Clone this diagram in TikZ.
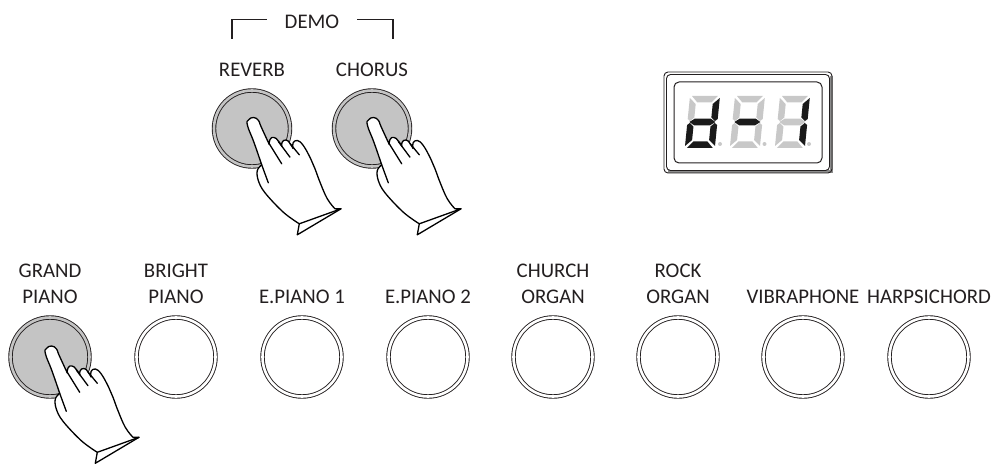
\documentclass[tikz,border=0pt]{standalone}
\usepackage{fontspec}
\setmainfont{Carlito}
\usetikzlibrary{positioning}
\definecolor{keyGray}{HTML}{C4C4C4}
\definecolor{segOff}{HTML}{C8C8C8}
\definecolor{segOn}{HTML}{1A1A1A}
\definecolor{inkDark}{HTML}{231F20}
\newcommand{\segA}{(2,0) -- (28,0) -- (22,6.5) -- (8,6.5) -- cycle}
\newcommand{\segB}{(30,2) -- (30,23) -- (27.5,25) -- (23.5,21.5) -- (23.5,8) -- cycle}
\newcommand{\segC}{(30,29) -- (27.5,27) -- (23.5,30.5) -- (23.5,44) -- (30,50) -- cycle}
\newcommand{\segD}{(2,52) -- (8,45.5) -- (22,45.5) -- (28,52) -- cycle}
\newcommand{\segE}{(0,29) -- (2.5,27) -- (6.5,30.5) -- (6.5,44) -- (0,50) -- cycle}
\newcommand{\segF}{(0,2) -- (6.5,8) -- (6.5,21.5) -- (2.5,25) -- (0,23) -- cycle}
\newcommand{\segG}{(2,26) -- (7,22.7) -- (23,22.7) -- (28,26) -- (23,29.3) -- (7,29.3) -- cycle}
\tikzset{
  keyOff/.style={circle, draw=inkDark, line width=0.9pt, double=white, double distance=2.6pt,
                 fill=white, minimum size=79pt, inner sep=0pt, outer sep=0pt},
  keyOn/.style={keyOff, double=keyGray, fill=keyGray},
  keyOnSmall/.style={keyOn, minimum size=76pt},
  keyLabel/.style={align=center, inner sep=0pt, text=inkDark, font=\fontsize{20.8}{25.5}\selectfont},
  handLine/.style={draw=black, line width=1.3pt, line join=round, line cap=round},
  hand/.pic={
    \draw[handLine, fill=white]
      plot[smooth, tension=.8] coordinates {(9.7,36.3) (2,14) (-4.5,-3) (-3.5,-8.5) (1.5,-11) (6.5,-8) (9,-2) (17.3,16)}
      -- plot[smooth, tension=1] coordinates {(17.3,16) (18,11) (22,9) (26.3,12.5) (30,18)}
      -- plot[smooth, tension=1] coordinates {(30,18) (30,14) (34,11.5) (38,15) (41,20)}
      -- plot[smooth, tension=.7] coordinates {(41,20) (41,14.5) (45.3,12) (51.3,17) (58.7,30.3) (63,40.3) (68,53.7) (75.3,70.3) (83,80.3)}
      -- (89,80.3) -- (47.3,95.3)
      -- plot[smooth, tension=.6] coordinates {(47.3,95.3) (31.3,83.7) (13,64.3) (6.3,52) (5.3,42) (9.7,36.3)} -- cycle;
    \draw[handLine] (9.7,36.3) -- (16.3,54.3);
    \draw[handLine] (17.3,15.3) -- (29.7,35.3);
    \draw[handLine] (26.3,13) -- (38,28.7);
    \draw[handLine] (38,15) -- (47.3,26.3);
    \draw[handLine] (89,80.3) -- (45.3,106.3) -- (47.3,95.3);
  },
}
\begin{document}
\begin{tikzpicture}[x=1pt, y=-1pt, node distance=14pt]
  \useasboundingbox (0,0) rectangle (994,465);
  % Bracket
  \node[keyLabel] (demo) at (312,21.5) {DEMO};
  \coordinate (demoL) at (232,39);
  \coordinate (demoLend) at (267,19.5);
  \coordinate (demoR) at (393,39);
  \coordinate (demoRend) at (357,19.5);
  \draw[draw=inkDark, line width=1.6pt] (demoL) |- (demoLend);
  \draw[draw=inkDark, line width=1.6pt] (demoR) |- (demoRend);
  % Upper keys
  \node[keyOnSmall] (reverb) at (252,128.5) {};
  \node[keyOnSmall] (chorus) at (372,128.5) {};
  \node[keyLabel, above=of reverb] (reverbText) {REVERB};
  \node[keyLabel, above=of chorus] (chorusText) {CHORUS};
  % Lower keys
  \node[keyOn] (grand) at (50,357) {};
  \node[keyOff] (bright) at (176,357) {};
  \node[keyOff] (piano1) at (302,357) {};
  \node[keyOff] (piano2) at (428,357) {};
  \node[keyOff] (church) at (553,357) {};
  \node[keyOff] (rock) at (678,357) {};
  \node[keyOff] (vibra) at (803,357) {};
  \node[keyOff] (harpsi) at (929,357) {};
  \node[keyLabel, above=of grand] (grandText) {GRAND\\PIANO};
  \node[keyLabel, above=of bright] (brightText) {BRIGHT\\PIANO};
  \node[keyLabel, above=of piano1] (piano1Text) {E.PIANO 1};
  \node[keyLabel, above=of piano2] (piano2Text) {E.PIANO 2};
  \node[keyLabel, above=of church] (churchText) {CHURCH\\ORGAN};
  \node[keyLabel, above=of rock] (rockText) {ROCK\\ORGAN};
  \node[keyLabel, above=of vibra] (vibraText) {VIBRAPHONE};
  \node[keyLabel, above=of harpsi] (harpsiText) {HARPSICHORD};
  % Hands
  \pic (handReverb) at (reverb) {hand};
  \pic (handChorus) at (chorus) {hand};
  \pic (handGrand) at (grand) {hand};
  % Display
  \draw[draw=segOff!70!black, line width=3pt] (831,76) -- (831,172) -- (668,172);
  \draw[draw=inkDark, line width=0.9pt, rounded corners=4pt] (664,72) rectangle (832,173);
  \draw[draw=inkDark, line width=0.9pt, rounded corners=4pt] (666.5,74.5) rectangle (829.5,170.5);
  \draw[draw=inkDark, line width=1pt, rounded corners=5pt] (674,82) rectangle (822,163);
  \begin{scope}[shift={(690,96)}, xslant=0.1]
    \fill[segOff] \segA \segF;
    \fill[segOn] \segB \segC \segD \segE \segG;
  \end{scope}
  \begin{scope}[shift={(735,96)}, xslant=0.1]
    \fill[segOff] \segA \segB \segC \segD \segE \segF;
    \fill[segOn] \segG;
  \end{scope}
  \begin{scope}[shift={(780,96)}, xslant=0.1]
    \fill[segOff] \segA \segD \segE \segF \segG;
    \fill[segOn] \segB \segC;
  \end{scope}
  \fill[segOff] (720,144) circle (2) (764.5,144) circle (2) (809,144) circle (2);
\end{tikzpicture}
\end{document}
